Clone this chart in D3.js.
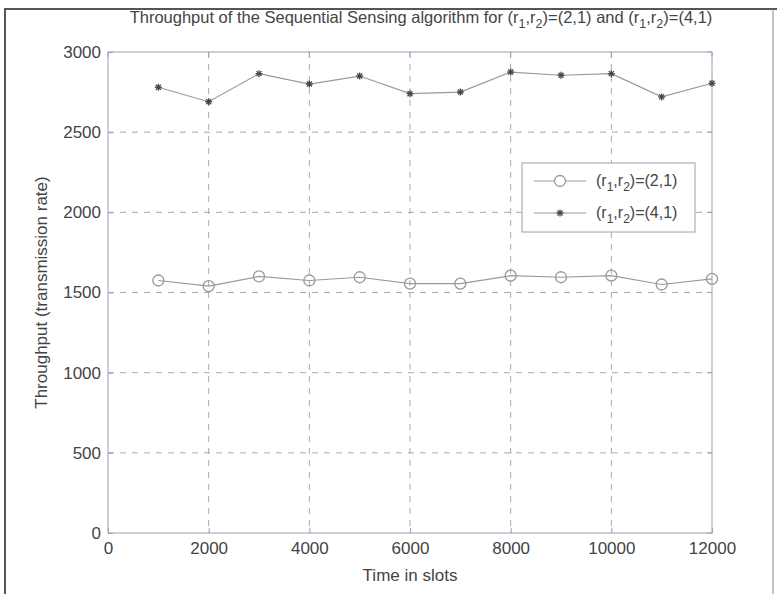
<!DOCTYPE html>
<html><head><meta charset="utf-8">
<script src="https://cdn.jsdelivr.net/npm/d3@7"></script>
<style>body{margin:0;background:#fff;} svg{display:block;font-family:"Liberation Sans",Arial,sans-serif;}</style>
</head><body>
<script>
const slots = [1000,2000,3000,4000,5000,6000,7000,8000,9000,10000,11000,12000];
const series21 = [1575,1540,1600,1575,1595,1555,1555,1605,1595,1605,1550,1585];
const series41 = [2780,2690,2865,2800,2850,2740,2750,2875,2855,2865,2720,2805];
const xTicks = [0,2000,4000,6000,8000,10000,12000];
const yTicks = [0,500,1000,1500,2000,2500,3000];

const W=777,H=594;
const m={left:108,right:712,top:52,bottom:533};
const svg=d3.select("body").append("svg").attr("width",W).attr("height",H);
svg.append("rect").attr("width",W).attr("height",H).attr("fill","#fff");
// figure frame
svg.append("path").attr("d",`M5,${H} V9 H${W}`).attr("fill","none").attr("stroke","#555").attr("stroke-width",2);
svg.append("line").attr("x1",773).attr("x2",773).attr("y1",9).attr("y2",H).attr("stroke","#888").attr("stroke-width",1);

const x=d3.scaleLinear().domain([0,12000]).range([m.left,m.right]);
const y=d3.scaleLinear().domain([0,3000]).range([m.bottom,m.top]);
const textCol="#444", gridCol="#aaa", axCol="#9aa0b8";
const FS="17px";

// grid
const g=svg.append("g");
g.selectAll(".vg").data(xTicks.slice(1,-1)).join("line")
 .attr("x1",d=>x(d)).attr("x2",d=>x(d)).attr("y1",m.top).attr("y2",m.bottom)
 .attr("stroke",gridCol).attr("stroke-dasharray","6,6");
g.selectAll(".hg").data(yTicks.slice(1,-1)).join("line")
 .attr("y1",d=>y(d)).attr("y2",d=>y(d)).attr("x1",m.left).attr("x2",m.right)
 .attr("stroke",gridCol).attr("stroke-dasharray","6,6");

// axes
const xa=svg.append("g").attr("transform",`translate(0,${m.bottom})`)
 .call(d3.axisBottom(x).tickValues(xTicks).tickSize(-5).tickPadding(9).tickFormat(d3.format("d")));
const ya=svg.append("g").attr("transform",`translate(${m.left},0)`)
 .call(d3.axisLeft(y).tickValues(yTicks).tickSize(-5).tickPadding(7).tickFormat(d3.format("d")));
[xa,ya].forEach(a=>{a.select(".domain").remove();a.selectAll("line").attr("stroke",axCol);
 a.selectAll("text").attr("fill",textCol).style("font-size",FS);});
// top/right ticks
svg.append("g").selectAll("line").data(xTicks).join("line").attr("x1",d=>x(d)).attr("x2",d=>x(d))
 .attr("y1",m.top).attr("y2",m.top+5).attr("stroke",axCol);
svg.append("g").selectAll("line").data(yTicks).join("line").attr("y1",d=>y(d)).attr("y2",d=>y(d))
 .attr("x1",m.right).attr("x2",m.right-5).attr("stroke",axCol);
svg.append("rect").attr("x",m.left).attr("y",m.top).attr("width",m.right-m.left).attr("height",m.bottom-m.top)
 .attr("fill","none").attr("stroke",axCol);

// lines
const line=d3.line().x((d,i)=>x(slots[i])).y(d=>y(d));
svg.append("path").datum(series21).attr("d",line).attr("fill","none").attr("stroke","#9a9a9a").attr("stroke-width",1.2);
svg.append("path").datum(series41).attr("d",line).attr("fill","none").attr("stroke","#9a9a9a").attr("stroke-width",1.2);
svg.append("g").selectAll("circle").data(series21).join("circle")
 .attr("cx",(d,i)=>x(slots[i])).attr("cy",d=>y(d)).attr("r",5.5).attr("fill","none").attr("stroke","#999").attr("stroke-width",1.3);
function drawStar(sel,cx,cy){
 const s=sel.append("g").attr("transform",`translate(${cx},${cy})`).attr("stroke","#444").attr("stroke-width",1.3);
 [[-3.5,0,3.5,0],[0,-3.5,0,3.5],[-2.5,-2.5,2.5,2.5],[-2.5,2.5,2.5,-2.5]].forEach(p=>
  s.append("line").attr("x1",p[0]).attr("y1",p[1]).attr("x2",p[2]).attr("y2",p[3]));
}
const sg=svg.append("g");
series41.forEach((d,i)=>drawStar(sg,x(slots[i]),y(d)));

// title
const t=svg.append("text").attr("x",421).attr("y",23).attr("text-anchor","middle").attr("fill",textCol).style("font-size","16.5px");
function sub(txt){t.append("tspan").attr("baseline-shift","-5").style("font-size","12.5px").text(txt);}
t.append("tspan").text("Throughput of the Sequential Sensing algorithm for (r");sub("1");
t.append("tspan").text(",r");sub("2");t.append("tspan").text(")=(2,1) and (r");sub("1");
t.append("tspan").text(",r");sub("2");t.append("tspan").text(")=(4,1)");

// axis labels
svg.append("text").attr("x",(m.left+m.right)/2).attr("y",581).attr("text-anchor","middle").attr("fill",textCol).style("font-size",FS).text("Time in slots");
svg.append("text").attr("transform",`translate(47,${(m.top+m.bottom)/2}) rotate(-90)`).attr("text-anchor","middle").attr("fill",textCol).style("font-size",FS).text("Throughput (transmission rate)");

// legend
const L=svg.append("g");
L.append("rect").attr("x",522).attr("y",163).attr("width",173).attr("height",69).attr("fill","#fff").attr("stroke",axCol);
const entries=[{y:181,lab:"2,1",mk:"c"},{y:213,lab:"4,1",mk:"s"}];
entries.forEach(e=>{
 L.append("line").attr("x1",534).attr("x2",586).attr("y1",e.y).attr("y2",e.y).attr("stroke","#9a9a9a").attr("stroke-width",1.2);
 if(e.mk==="c") L.append("circle").attr("cx",560).attr("cy",e.y).attr("r",5.5).attr("fill","#fff").attr("stroke","#999").attr("stroke-width",1.3);
 else drawStar(L,560,e.y);
 const tx=L.append("text").attr("x",596).attr("y",e.y+5).attr("fill",textCol).style("font-size","16px");
 const s=(v)=>tx.append("tspan").attr("baseline-shift","-5").style("font-size","12px").text(v);
 tx.append("tspan").text("(r");s("1");tx.append("tspan").text(",r");s("2");tx.append("tspan").text(")=("+e.lab+")");
});
</script>
</body></html>
